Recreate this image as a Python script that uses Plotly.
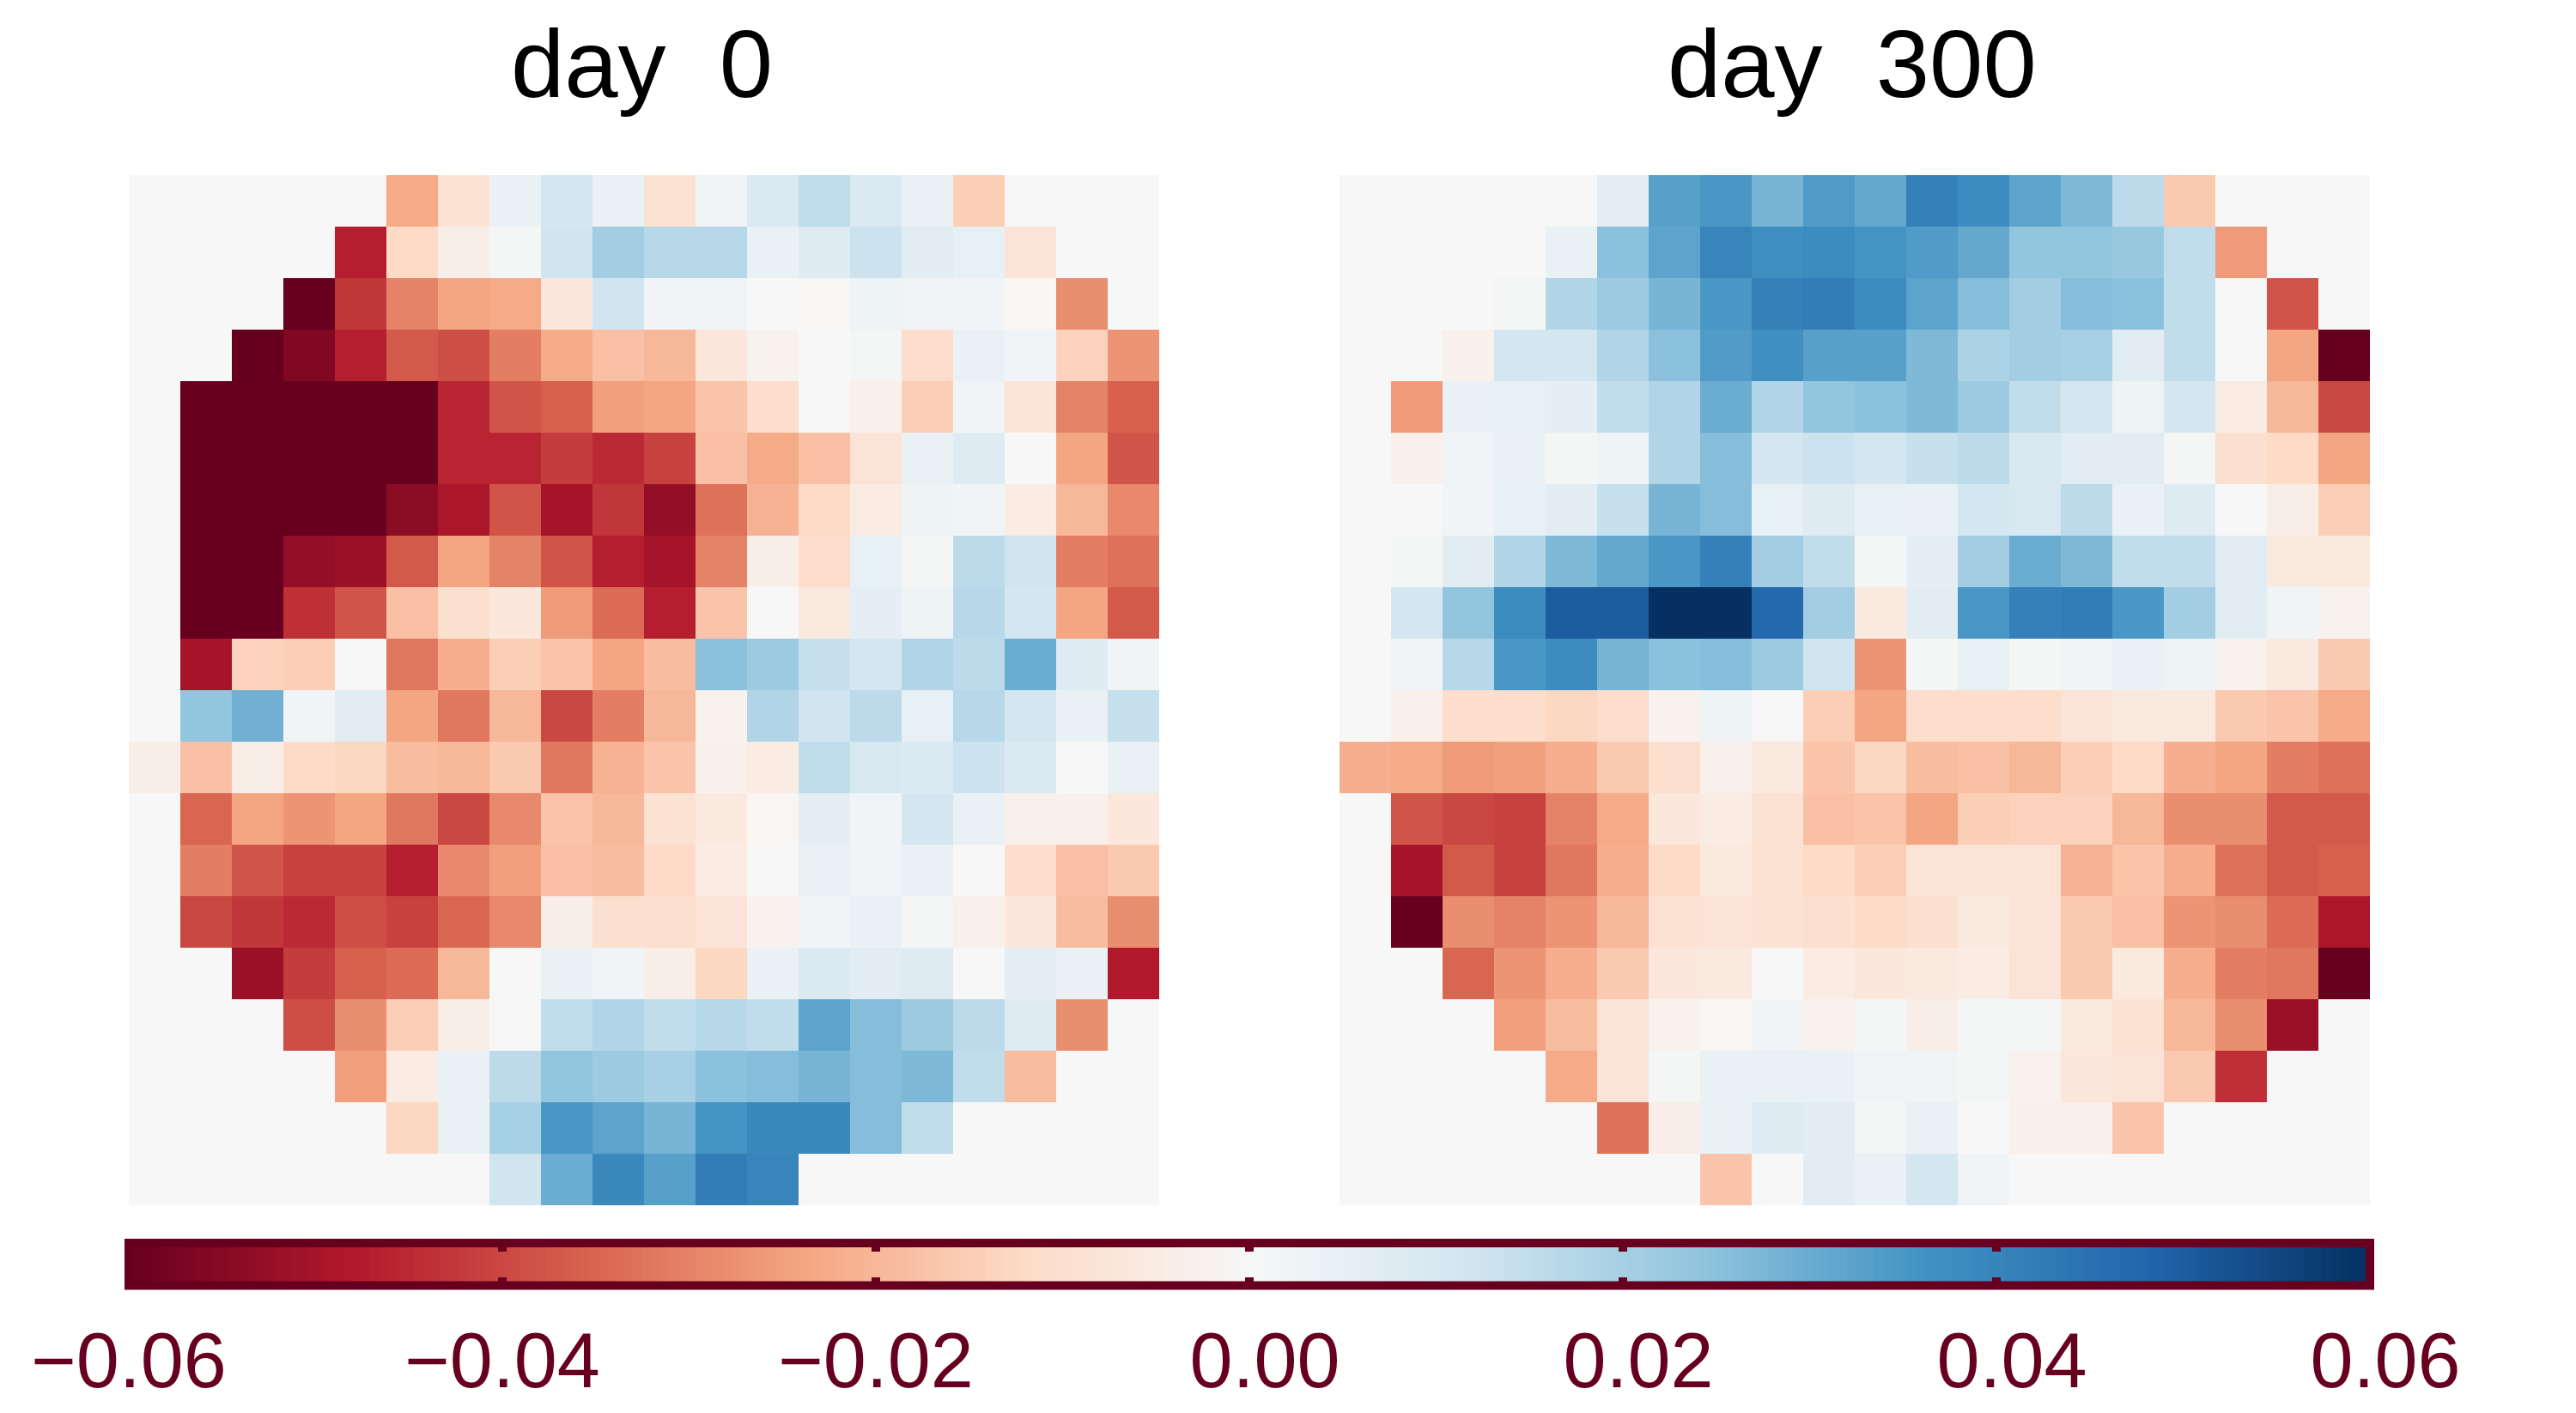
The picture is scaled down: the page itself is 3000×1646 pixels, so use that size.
import numpy as np
import plotly.graph_objects as go

# Cell values in thousandths; cells outside the disc read as 0
day0_milli = [
 [0,0,0,0,0,-23,-9,4,11,4,-9,2,9,15,9,4,-15,0,0,0],
 [0,0,0,0,-47,-12,-4,1,12,21,17,17,4,8,13,7,5,-8,0,0],
 [0,0,0,-60,-43,-30,-24,-23,-7,12,2,2,0,-1,3,2,2,-1,-28,0],
 [0,0,-60,-56,-47,-37,-39,-31,-23,-18,-20,-7,-2,0,1,-11,4,2,-14,-27],
 [0,-60,-60,-60,-60,-60,-46,-38,-36,-25,-24,-17,-11,0,-3,-15,2,-8,-30,-36],
 [0,-60,-60,-60,-60,-60,-46,-46,-42,-45,-41,-18,-23,-18,-8,4,8,0,-24,-38],
 [0,-60,-60,-60,-60,-54,-49,-38,-50,-43,-53,-33,-21,-12,-5,3,2,-5,-20,-29],
 [0,-60,-60,-53,-52,-37,-24,-30,-38,-47,-50,-30,-4,-11,5,1,16,12,-31,-33],
 [0,-60,-60,-44,-38,-18,-10,-7,-26,-34,-47,-17,0,-6,6,3,17,11,-24,-37],
 [0,-50,-14,-15,0,-32,-22,-15,-17,-24,-19,25,22,14,11,18,16,30,8,2],
 [0,24,29,2,7,-24,-32,-20,-40,-31,-20,-2,18,12,16,5,17,11,4,14],
 [-4,-18,-4,-12,-13,-19,-20,-16,-32,-21,-17,-3,-5,15,10,9,13,9,0,4],
 [0,-35,-24,-27,-24,-32,-40,-29,-17,-20,-9,-6,-1,6,2,11,4,-3,-3,-7],
 [0,-31,-38,-41,-41,-47,-29,-25,-18,-19,-12,-5,0,4,2,4,0,-11,-18,-16],
 [0,-40,-43,-45,-39,-41,-35,-29,-4,-10,-10,-8,-2,2,4,1,-3,-7,-19,-28],
 [0,0,-52,-42,-36,-34,-20,0,4,2,-4,-13,4,9,7,8,0,6,4,-48],
 [0,0,0,-39,-28,-15,-4,0,15,18,15,17,15,32,26,22,16,8,-28,0],
 [0,0,0,0,-25,-5,4,16,24,22,20,25,26,28,26,27,15,-19,0,0],
 [0,0,0,0,0,-13,4,20,35,32,28,36,39,39,26,15,0,0,0,0],
 [0,0,0,0,0,0,0,12,30,39,33,42,40,0,0,0,0,0,0,0],
]
day300_milli = [
 [0,0,0,0,0,6,33,35,28,34,31,41,38,32,27,16,-16,0,0,0],
 [0,0,0,0,4,25,32,40,37,38,36,34,31,24,24,23,15,-26,0,0],
 [0,0,0,1,18,22,28,35,41,42,38,32,26,21,26,25,15,0,-38,0],
 [0,0,-3,11,11,18,25,34,37,33,33,27,19,21,20,7,15,0,-24,-60],
 [0,-26,4,5,6,15,18,30,18,24,25,27,22,15,11,3,11,-5,-20,-40],
 [0,-3,2,4,1,3,18,26,11,13,11,14,16,10,7,7,1,-10,-12,-24],
 [0,0,2,5,7,14,28,26,5,8,5,4,11,10,16,4,8,0,-4,-15],
 [0,1,7,18,27,31,35,41,21,15,1,6,21,30,27,15,15,7,-6,-6],
 [0,11,24,38,50,50,60,60,47,21,-6,7,35,41,42,35,21,7,2,-2],
 [0,2,17,35,38,28,25,26,22,12,-27,1,5,1,2,4,3,-2,-6,-16],
 [0,-3,-11,-11,-13,-11,-2,3,0,-15,-24,-11,-11,-11,-8,-6,-6,-16,-17,-23],
 [-22,-23,-26,-25,-22,-16,-10,-3,-6,-17,-13,-19,-18,-20,-15,-12,-22,-24,-31,-33],
 [0,-38,-40,-41,-30,-23,-7,-5,-9,-18,-17,-24,-15,-14,-14,-20,-28,-28,-37,-37],
 [0,-50,-37,-41,-32,-22,-12,-6,-9,-12,-15,-8,-8,-8,-21,-17,-22,-33,-37,-36],
 [0,-60,-28,-30,-27,-20,-9,-8,-9,-10,-12,-10,-6,-8,-16,-18,-27,-28,-34,-49],
 [0,0,-35,-27,-22,-16,-7,-6,0,-5,-7,-6,-5,-8,-16,-6,-22,-31,-32,-60],
 [0,0,0,-25,-19,-8,-2,-1,2,-2,1,-4,1,1,-6,-9,-20,-28,-52,0],
 [0,0,0,0,-23,-8,1,4,4,4,2,2,1,-2,-7,-8,-16,-44,0,0],
 [0,0,0,0,0,-33,-4,4,8,7,1,4,0,-3,-3,-17,0,0,0,0],
 [0,0,0,0,0,0,0,-17,0,7,4,11,2,0,0,0,0,0,0,0],
]
panel_titles = ["day\u00a0\u00a00", "day\u00a0\u00a0300"]
scale_min, scale_max = -0.06, 0.06
tick_values = [-0.06, -0.04, -0.02, 0.00, 0.02, 0.04, 0.06]
tick_labels = ["\u22120.06", "\u22120.04", "\u22120.02", "0.00", "0.02", "0.04", "0.06"]
rdbu = ["#67001f", "#b2182b", "#d6604d", "#f4a582", "#fddbc7", "#f7f7f7",
        "#d1e5f0", "#92c5de", "#4393c3", "#2166ac", "#053061"]
colorscale = [[i / 10, c] for i, c in enumerate(rdbu)]

W, H = 3000, 1646
INK = "#67001f"
FONT = "Liberation Sans"
# Unsigned labels sit right of their ticks in the reference, as if a minus slot were kept
UNSIGNED_PAD = "\u2009\u2009"
shown_labels = [t if t.startswith("\u2212") else UNSIGNED_PAD + t for t in tick_labels]

def xd(a, b):
    return [a / W, b / W]

def yd(top, bottom):
    return [1 - bottom / H, 1 - top / H]

fig = go.Figure()
for i, vals in enumerate([day0_milli, day300_milli]):
    suffix = "" if i == 0 else "2"
    fig.add_trace(go.Heatmap(z=np.array(vals) / 1000, colorscale=colorscale,
                             zmin=scale_min, zmax=scale_max, showscale=False,
                             xaxis="x" + suffix, yaxis="y" + suffix))

# Colour bar: the scale sampled in 256 levels, on an axis that carries the ticks
ramp = np.linspace(scale_min, scale_max, 256)
fig.add_trace(go.Heatmap(x=ramp, y=[0], z=[ramp], colorscale=colorscale,
                         zmin=scale_min, zmax=scale_max, showscale=False,
                         xaxis="x3", yaxis="y3", hoverinfo="skip"))

hidden = dict(visible=False, showgrid=False, zeroline=False, constrain="domain")
fig.update_layout(
    width=W, height=H, margin=dict(l=0, r=0, t=0, b=0, autoexpand=False),
    paper_bgcolor="white", plot_bgcolor="white", showlegend=False,
    xaxis=dict(domain=xd(150, 1350), range=[-0.5, 19.5], **hidden),
    yaxis=dict(domain=yd(204, 1404), range=[19.5, -0.5], anchor="x", **hidden),
    xaxis2=dict(domain=xd(1560, 2760), range=[-0.5, 19.5], anchor="y2", **hidden),
    yaxis2=dict(domain=yd(204, 1404), range=[19.5, -0.5], anchor="x2", **hidden),
    xaxis3=dict(domain=xd(150, 2760), range=[scale_min, scale_max], anchor="y3",
                tickmode="array", tickvals=tick_values, ticktext=shown_labels,
                ticks="inside", ticklen=10, tickwidth=10, tickcolor=INK,
                mirror="ticks", showgrid=False, zeroline=False, showline=False,
                automargin=False, ticklabelstandoff=27,
                tickfont=dict(family=FONT, size=90, color=INK)),
    yaxis3=dict(domain=yd(1448, 1497.5), range=[-0.5, 0.5], anchor="x3", visible=False),
    shapes=[dict(type="rect", xref="x3 domain", yref="y3 domain", x0=0, x1=1, y0=0, y1=1,
                 line=dict(color=INK, width=10), fillcolor="rgba(0,0,0,0)", layer="above")],
    annotations=[
        dict(text=t, x=cx / W, y=1 - 74 / H, xref="paper", yref="paper",
             xanchor="center", yanchor="middle", showarrow=False,
             font=dict(family=FONT, size=112, color="black"))
        for t, cx in zip(panel_titles, [747, 2157])
    ],
)

fig.write_html("out.html", config={"displayModeBar": False},
               post_script="document.body.style.margin='0';")
